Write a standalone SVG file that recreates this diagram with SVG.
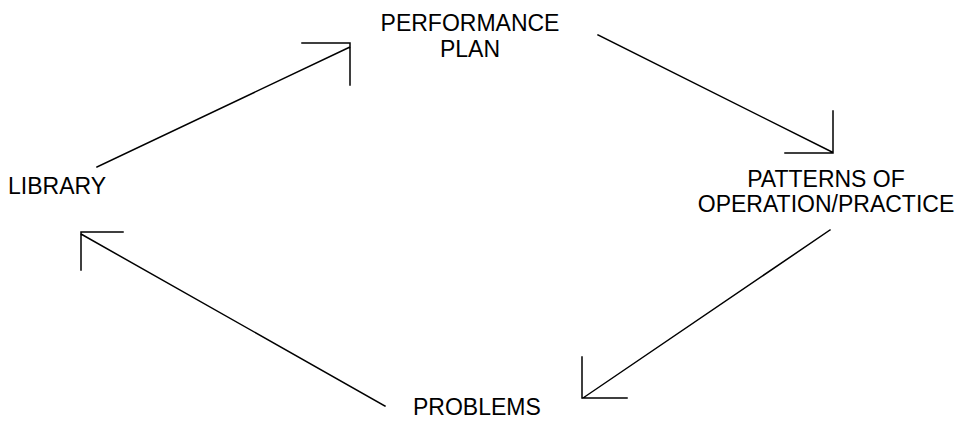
<svg xmlns="http://www.w3.org/2000/svg" width="964" height="421" viewBox="0 0 964 421">
<style>
.t{font-family:"Liberation Sans",Arial,sans-serif;font-size:23px;fill:#000}
.c{stroke:#000;stroke-width:1.5;fill:none;stroke-linecap:square}
</style>
<rect width="964" height="421" fill="#fff"/>
<g id="node-performance-plan">
<text class="t" x="470" y="31" text-anchor="middle">PERFORMANCE</text>
<text class="t" x="470" y="57" text-anchor="middle">PLAN</text>
</g>
<g id="node-patterns">
<text class="t" x="826" y="187" text-anchor="middle">PATTERNS OF</text>
<text class="t" x="826" y="212" text-anchor="middle">OPERATION/PRACTICE</text>
</g>
<g id="node-problems">
<text class="t" x="413" y="415">PROBLEMS</text>
</g>
<g id="node-library">
<text class="t" x="8" y="194">LIBRARY</text>
</g>
<g id="connectors">
<path class="c" d="M97,167 L350,47 M302,43 L350,43 L350,85"/>
<path class="c" d="M598,35 L832,152 M785,153 L833,153 L833,111"/>
<path class="c" d="M830,230 L583,398 M627,398 L582,398 L582,357"/>
<path class="c" d="M385,406 L81,234 M123,232 L81,232 L81,270"/>
</g>
</svg>
